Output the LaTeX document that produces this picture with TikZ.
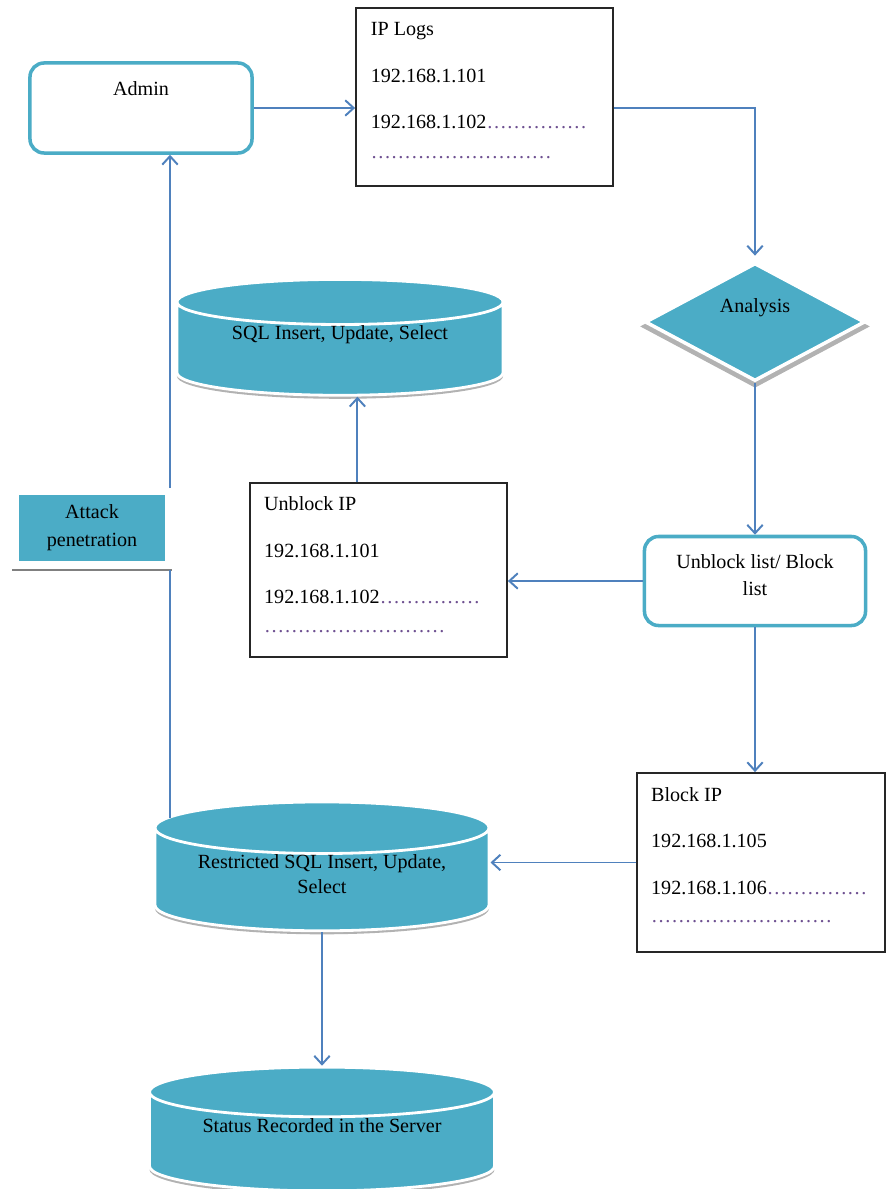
\documentclass[tikz,border=0pt]{standalone}
\usepackage{fontspec}
\setmainfont{Liberation Serif}
\usetikzlibrary{shapes.geometric,arrows.meta,shadows,positioning}
\definecolor{tealfill}{RGB}{75,172,198}
\definecolor{flowblue}{RGB}{79,129,189}
\definecolor{dotcol}{RGB}{110,80,145}
\begin{document}
\begin{tikzpicture}[x=0.025cm,y=-0.025cm,>={Straight Barb[length=6pt,width=11pt]},font=\fontsize{14.3}{17.2}\selectfont]
\tikzset{RoundStyle/.style = {draw=tealfill,line width=2.5pt,rounded corners=10pt,align=center,fill=white},
  ListStyle/.style = {draw=black!85,line width=1.2pt,fill=white},
  ListText/.style = {align=left,inner sep=0pt},
  DbStyle/.style = {cylinder,shape border rotate=90,aspect=0.2,draw=white,line width=2pt,
    fill=tealfill,align=center,inner ysep=0pt,
    drop shadow={shadow xshift=0pt,shadow yshift=-2.5pt,fill=black!30,opacity=1}},
  FlowStyle/.style = {draw=flowblue,line width=1.4pt}}
\useasboundingbox (0,0) rectangle (886,1189);
\node[RoundStyle,minimum width=5.55cm,minimum height=2.25cm] (admin) at (141,108) {Admin\\[11pt]\mbox{}};
\node[ListStyle,minimum width=6.425cm,minimum height=4.45cm] (logs) at (484.5,97) {};
\node[ListText,below right=10.5pt and 11pt of logs.north west] (logstext) {IP Logs\\[16pt]192.168.1.101\\[16pt]192.168.1.102{\color{dotcol}……………}\\[4pt]{\color{dotcol}………………………}};
\node[diamond,fill=tealfill,draw=white,line width=2.5pt,minimum width=5.5cm,minimum height=2.95cm,inner sep=0pt,
  drop shadow={shadow xshift=0pt,shadow yshift=-3pt,shadow scale=1.05,fill=black!30,opacity=1}] (analysis) at (755,322) {};
\node (analysislabel) at (755,308) {Analysis};
\node[DbStyle,minimum width=8.15cm,minimum height=2.625cm] (sqldb) at (340,352) {SQL Insert, Update, Select\\[10pt]\mbox{}};
\node[RoundStyle,minimum width=5.525cm,minimum height=2.225cm] (lists) at (755,581) {Unblock list/ Block\\[1.5pt]list\\[-8.6pt]\mbox{}};
\node[ListStyle,minimum width=6.425cm,minimum height=4.35cm] (unblock) at (378.5,570) {};
\node[ListText,below right=10pt and 10.5pt of unblock.north west] (unblocktext) {Unblock IP\\[16pt]192.168.1.101\\[16pt]192.168.1.102{\color{dotcol}……………}\\[3pt]{\color{dotcol}………………………}};
\node[fill=tealfill,minimum width=3.65cm,minimum height=1.65cm,align=center] (attack) at (92,528) {Attack\\[2.5pt]penetration};
\node[ListStyle,minimum width=6.2cm,minimum height=4.475cm] (blockip) at (761,862.5) {};
\node[ListText,below right=10.5pt and 10.5pt of blockip.north west] (blockiptext) {Block IP\\[16pt]192.168.1.105\\[16pt]192.168.1.106{\color{dotcol}……………}\\[3pt]{\color{dotcol}………………………}};
\node[DbStyle,minimum width=8.35cm,minimum height=3.05cm] (restr) at (322,883) {Restricted SQL Insert, Update,\\Select\\[-4.4pt]\mbox{}};
\node[DbStyle,minimum width=8.625cm,minimum height=2.675cm] (status) at (322,1145) {Status Recorded in the Server\\[11pt]\mbox{}};
\draw[black!50,line width=0.9pt] (12,570) -- (172,570);
\coordinate (attacktop) at (170,488);
\coordinate (attackbot) at (170,570);
\coordinate (restrin) at (170,818);
\draw[FlowStyle,->] (admin.east) -- (admin.east -| logs.west);
\draw[FlowStyle,->,shorten >=4pt] (admin.east -| logs.east) -| (analysis.north);
\draw[FlowStyle,->] (analysis.south) -- (lists.north);
\draw[FlowStyle,->] (lists.west) -- (lists.west -| unblock.east);
\draw[FlowStyle,->] ([xshift=-15pt]unblock.north) -- ([xshift=-15pt]unblock.north |- sqldb.south);
\draw[FlowStyle,->] (lists.south) -- (lists.south |- blockip.north);
\draw[FlowStyle,->] (blockip.west) -- (blockip.west -| restr.east);
\draw[FlowStyle,->] (restr.south) -- (status.north);
\draw[FlowStyle] (restrin) -- (attackbot);
\draw[FlowStyle,->] (attacktop) -- (attacktop |- admin.south);
\end{tikzpicture}
\end{document}
